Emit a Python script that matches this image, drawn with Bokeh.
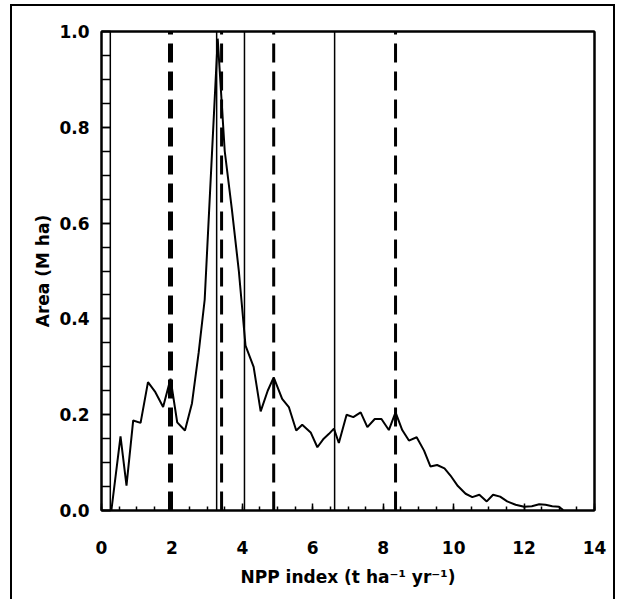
from bokeh.plotting import figure
from bokeh.models import Range1d, FixedTicker, NumeralTickFormatter, LinearAxis
from bokeh.embed import file_html
from bokeh.resources import INLINE
import numpy as np

# NPP index (t ha-1 yr-1) and area (M ha)
npp = [0.28, 0.54, 0.71, 0.90, 1.11, 1.32, 1.53, 1.75, 1.96, 2.15, 2.37, 2.57,
       2.76, 2.93, 3.12, 3.30, 3.50, 3.70, 3.90, 4.09, 4.32, 4.52, 4.72, 4.89,
       5.13, 5.32, 5.53, 5.70, 5.94, 6.13, 6.31, 6.46, 6.60, 6.74, 6.96, 7.15,
       7.36, 7.55, 7.76, 7.95, 8.16, 8.35, 8.54, 8.73, 8.95, 9.16, 9.34, 9.53,
       9.74, 9.91, 10.12, 10.34, 10.53, 10.73, 10.94, 11.12, 11.32, 11.52,
       11.76, 12.00, 12.22, 12.43, 12.61, 12.80, 12.99, 13.11]
area = [0.0, 0.155, 0.052, 0.188, 0.183, 0.268, 0.247, 0.216, 0.275, 0.184,
        0.167, 0.224, 0.33, 0.44, 0.72, 0.985, 0.75, 0.63, 0.50, 0.344, 0.30,
        0.207, 0.25, 0.278, 0.233, 0.216, 0.167, 0.179, 0.163, 0.132, 0.15,
        0.16, 0.171, 0.141, 0.20, 0.195, 0.205, 0.174, 0.191, 0.191, 0.168,
        0.205, 0.168, 0.146, 0.153, 0.125, 0.092, 0.095, 0.088, 0.073, 0.051,
        0.035, 0.028, 0.033, 0.019, 0.033, 0.029, 0.019, 0.012, 0.008, 0.009,
        0.013, 0.012, 0.009, 0.008, 0.001]

# class boundaries (vertical lines)
solid_cut = [0.25, 3.27, 4.06, 6.62]
dashed_cut = [1.96, 3.41, 4.89, 8.35]

x_ticks = [0, 2, 4, 6, 8, 10, 12, 14]
y_ticks = [0.0, 0.2, 0.4, 0.6, 0.8, 1.0]

W, H = 605, 595
p = figure(width=W, height=H, output_backend="svg", toolbar_location=None,
           x_range=Range1d(0, 14), y_range=Range1d(0, 1),
           min_border_left=89, min_border_top=25, min_border_right=23,
           min_border_bottom=91, background_fill_color="white",
           border_fill_color="white")
p.styles = {"margin-left": "10px", "margin-top": "4px",
            "border-left": "2px solid black", "border-top": "2px solid black",
            "border-right": "2px solid black"}
p.xgrid.visible = False
p.ygrid.visible = False
p.outline_line_color = "black"
p.outline_line_width = 2

xa = p.below[0]
ya = p.left[0]

font = "DejaVu Sans"
for ax in (xa, ya):
    ax.axis_line_color = "black"
    ax.axis_line_width = 2
    ax.major_tick_line_color = "black"
    ax.minor_tick_line_color = "black"
    ax.major_tick_line_width = 1.5
    ax.minor_tick_line_width = 1.5
    ax.major_tick_out = 0
    ax.minor_tick_out = 0
    ax.major_label_text_font = font
    ax.major_label_text_font_style = "bold"
    ax.major_label_text_font_size = "17px"
    ax.major_label_text_color = "black"
    ax.axis_label_text_font = font
    ax.axis_label_text_font_style = "bold"
    ax.axis_label_text_font_size = "17px"
    ax.axis_label_text_color = "black"

xa.ticker = FixedTicker(ticks=x_ticks, minor_ticks=list(np.arange(0, 14.01, 0.5)))
ya.ticker = FixedTicker(ticks=y_ticks, minor_ticks=list(np.arange(0, 1.001, 0.05)))
ya.formatter = NumeralTickFormatter(format="0.0")
xa.major_tick_in = 7
xa.minor_tick_in = 4
ya.major_tick_in = 9
ya.minor_tick_in = 9
xa.major_label_standoff = 30
ya.major_label_standoff = 12
xa.axis_label = "NPP index (t ha\u207b\u00b9 yr\u207b\u00b9)"
ya.axis_label = "Area (M ha)"
xa.axis_label_standoff = 10
ya.axis_label_standoff = 3

# frame lines on top and right
for side in ("above", "right"):
    a = LinearAxis(ticker=FixedTicker(ticks=[]), major_label_text_font_size="0px",
                   axis_line_color="black", axis_line_width=2,
                   major_tick_line_color=None, minor_tick_line_color=None)
    p.add_layout(a, side)

# vertical boundary lines
p.segment(x0=solid_cut, y0=[0] * len(solid_cut), x1=solid_cut, y1=[1] * len(solid_cut),
          line_color="black", line_width=1.5)
dash_widths = [5] + [3] * (len(dashed_cut) - 1)
p.segment(x0=dashed_cut, y0=[0] * len(dashed_cut), x1=dashed_cut, y1=[1] * len(dashed_cut),
          line_color="black", line_width=dash_widths, line_dash="19 9")

# data curve
p.line(npp, area, line_color="black", line_width=2)

open("out.html", "w").write(file_html(p, INLINE))
